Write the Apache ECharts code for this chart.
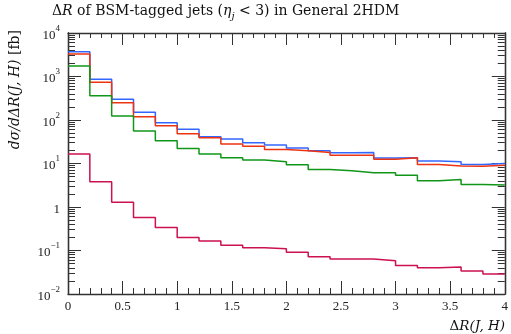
<!DOCTYPE html>
<html><head><meta charset="utf-8">
<script src="https://cdn.jsdelivr.net/npm/echarts@6/dist/echarts.min.js"></script>
<style>html,body{margin:0;padding:0;background:#fff}#c{width:511px;height:334px}</style>
</head><body><div id="c"></div>
<script>
// bin edges (lower edges + final upper edge)
const binEdges = [0,0.2,0.4,0.6,0.8,1.0,1.2,1.4,1.6,1.8,2.0,2.2,2.4,2.6,2.8,3.0,3.2,3.4,3.6,3.8,4.0];
const blueVals = [3700,860,300,150,87,61,41,36.6,30,26.6,22.7,19.7,17.6,17.8,13.4,13.6,11.4,11,9.5,10];
const redVals = [3300,740,250,119,74,48,39,28,25,21,19.7,17.8,15.5,15.5,12.5,13.6,9.5,8.8,8.6,9.1];
const greenVals = [1740,360,124,56,33.5,22,16.6,13.6,12,11,9.4,7.3,6.8,6.15,6.15,5.4,4.0,4.3,3.3,3.2];
const crimsonVals = [16.6,3.8,1.29,0.57,0.34,0.20,0.165,0.132,0.116,0.110,0.091,0.072,0.064,0.064,0.058,0.045,0.040,0.042,0.034,0.029];
const xTickLabels = ['0','0.5','1','1.5','2','2.5','3','3.5','4'];
const yMajor = [0.01,0.1,1,10,100,1000,10000];
const yMinorMult = [2,3,4,5,6,7,8,9];

function hist(vals){
  const d = vals.map((v,i)=>[binEdges[i], v]);
  d.push([binEdges[binEdges.length-1], vals[vals.length-1]]);
  return d;
}
const yMinor = [];
yMajor.slice(0,-1).forEach(m=>yMinorMult.forEach(k=>yMinor.push(m*k)));

const FONT = '"Liberation Serif", "DejaVu Serif", serif';
const TFONT = '"DejaVu Serif", "Liberation Serif", serif';
const AX = '#333';
const labelRich = {
  b:{fontFamily:FONT,fontSize:13,color:'#222',lineHeight:18,verticalAlign:'bottom'},
  s:{fontFamily:FONT,fontSize:9,color:'#222',lineHeight:18,verticalAlign:'top'}
};
function yFmt(v){
  const e = Math.round(Math.log10(v));
  if (e===0) return '{b|1}';
  return '{b|10}{s|' + (e<0?'\u2212'+(-e):e) + '}';
}
const grid = {left:68,right:6,top:33,bottom:40};
const baseY = {type:'log',logBase:10,min:0.01,max:10000,splitLine:{show:false},
  axisLine:{show:true,lineStyle:{color:AX,width:1.3}}};
const baseX = {type:'value',min:0,max:4,interval:0.5,splitLine:{show:false},
  axisLine:{show:true,lineStyle:{color:AX,width:1.3}},
  axisTick:{show:true,inside:true,length:13,lineStyle:{color:AX,width:1}},
  minorTick:{show:true,splitNumber:5,length:6,lineStyle:{color:AX,width:1}}};

const option = {
  animation:false,
  backgroundColor:'#fff',
  grid: grid,
  title:{
    text:'{n|\u0394}{i|R}{n| of BSM-tagged jets (}{i|\u03b7}{sb|j}{n| < 3) in General 2HDM}',
    left:52, top:1, padding:0,
    textStyle:{fontWeight:'normal',rich:{
      n:{fontFamily:TFONT,fontSize:14,fontWeight:'normal',color:'#111',lineHeight:20},
      i:{fontFamily:TFONT,fontSize:14,fontWeight:'normal',fontStyle:'italic',color:'#111',lineHeight:20},
      sb:{fontFamily:TFONT,fontSize:10,fontWeight:'normal',fontStyle:'italic',color:'#111',lineHeight:20,verticalAlign:'bottom'}
    }}
  },
  xAxis:[
    Object.assign({}, baseX, {position:'bottom',
      axisLabel:{show:true,margin:6,fontFamily:FONT,fontSize:13,color:'#222',
        formatter:(v)=>{const i=Math.round(v/0.5);return xTickLabels[i]!==undefined?xTickLabels[i]:'';}}}),
    Object.assign({}, baseX, {position:'top',axisLabel:{show:false},
      axisTick:{show:true,inside:true,length:12,lineStyle:{color:AX,width:1}},
      minorTick:{show:true,splitNumber:5,length:5,lineStyle:{color:AX,width:1}}})
  ],
  yAxis:[
    Object.assign({}, baseY, {position:'left',
      axisTick:{show:true,inside:true,length:13,customValues:yMajor,lineStyle:{color:AX,width:1}},
      axisLabel:{show:true,margin:8,customValues:yMajor,formatter:yFmt,rich:labelRich}}),
    Object.assign({}, baseY, {position:'left',axisLabel:{show:false},
      axisTick:{show:true,inside:true,length:7,customValues:yMinor,lineStyle:{color:AX,width:1}}}),
    Object.assign({}, baseY, {position:'right',axisLabel:{show:false},
      axisTick:{show:true,inside:true,length:13,customValues:yMajor,lineStyle:{color:AX,width:1}}}),
    Object.assign({}, baseY, {position:'right',axisLabel:{show:false},
      axisTick:{show:true,inside:true,length:7,customValues:yMinor,lineStyle:{color:AX,width:1}}})
  ],
  graphic:[
    {type:'text', x:15, y:30, rotation:Math.PI/2,
      style:{text:'{i|d\u03c3/d\u0394R(J, H)}{n| [fb]}',align:'right',verticalAlign:'middle',
        rich:{i:{fontFamily:TFONT,fontSize:14,fontStyle:'italic',fill:'#111'},
              n:{fontFamily:TFONT,fontSize:14,fill:'#111'}}}},
    {type:'text', x:505, y:326,
      style:{text:'{n|\u0394}{i|R(J, H)}',align:'right',verticalAlign:'middle',
        rich:{i:{fontFamily:TFONT,fontSize:13.5,fontStyle:'italic',fill:'#111'},
              n:{fontFamily:TFONT,fontSize:13.5,fill:'#111'}}}}
  ],
  series:[
    {name:'blue',type:'line',step:'end',showSymbol:false,data:hist(blueVals),
      lineStyle:{color:'#3366ff',width:1.5},itemStyle:{color:'#3366ff'},z:2},
    {name:'red',type:'line',step:'end',showSymbol:false,data:hist(redVals),
      lineStyle:{color:'#ee3311',width:1.5},itemStyle:{color:'#ee3311'},z:3},
    {name:'green',type:'line',step:'end',showSymbol:false,data:hist(greenVals),
      lineStyle:{color:'#109618',width:1.5},itemStyle:{color:'#109618'},z:4},
    {name:'crimson',type:'line',step:'end',showSymbol:false,data:hist(crimsonVals),
      lineStyle:{color:'#cc1050',width:1.5},itemStyle:{color:'#cc1050'},z:5}
  ]
};
const chart = echarts.init(document.getElementById('c'), null, {renderer:'canvas'});
chart.setOption(option);
</script></body></html>
